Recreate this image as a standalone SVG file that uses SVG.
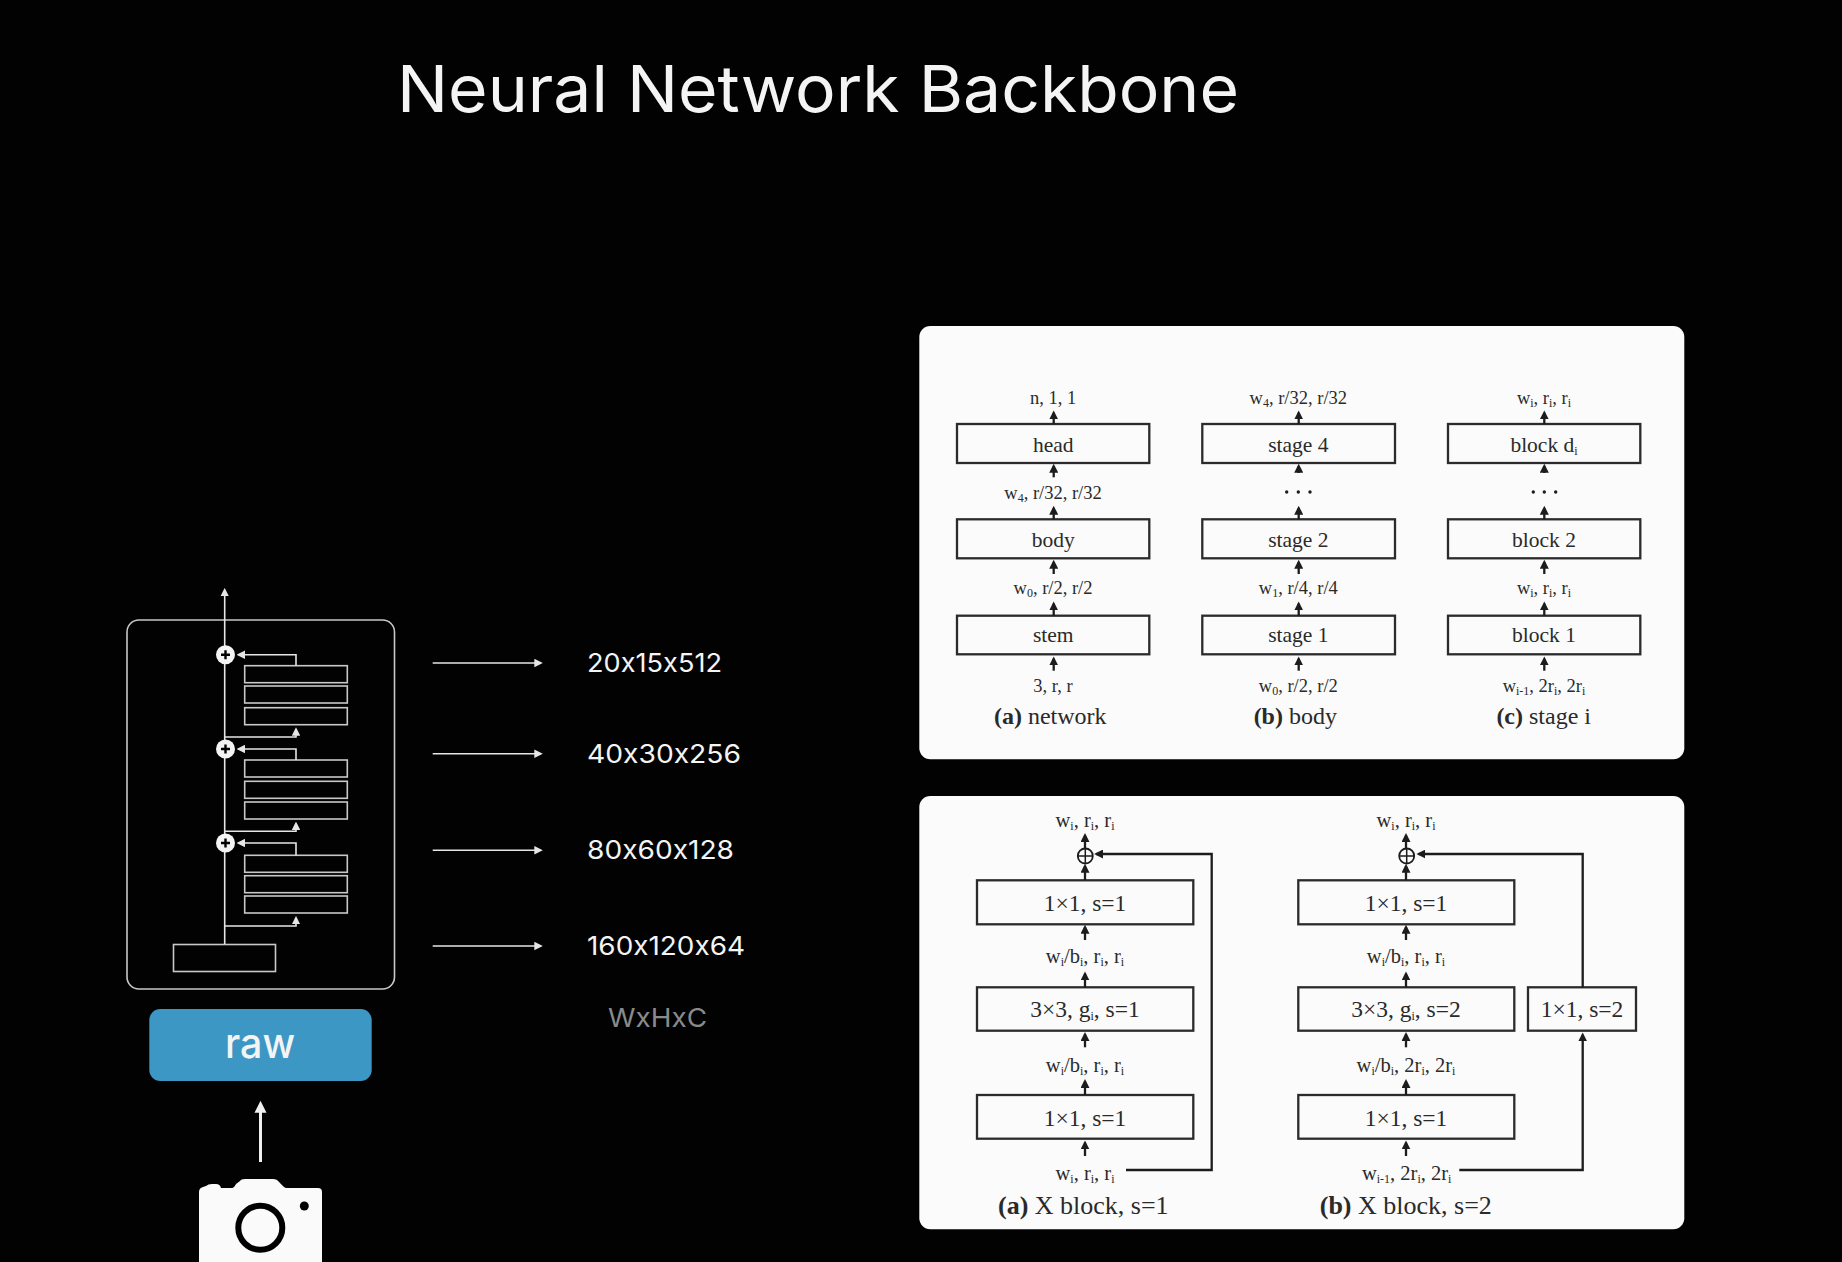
<svg xmlns="http://www.w3.org/2000/svg" width="1842" height="1262" viewBox="0 0 1842 1262">
<defs>
<marker id="wh" markerUnits="userSpaceOnUse" markerWidth="8.5" markerHeight="8.5" refX="6" refY="4" viewBox="0 0 8 8" orient="auto"><path d="M0 0L8 4L0 8Z" fill="#e6e6e6"/></marker>
<marker id="bk" markerUnits="userSpaceOnUse" markerWidth="9" markerHeight="9" refX="6" refY="4" viewBox="0 0 8 8" orient="auto"><path d="M0 0L8 4L0 8Z" fill="#1c1c1c"/></marker>
</defs>
<style>
.sans{font-family:"Inter","Noto Sans",sans-serif;fill:#f4f4f4;font-feature-settings:"calt" 0;font-variant-ligatures:none}
.dim{font-size:26px}
.wl{fill:none;stroke:#dcdcdc;stroke-width:1.6}
.wb{fill:none;stroke:#c8c8c8;stroke-width:1.6}
.wa{fill:none;stroke:#e6e6e6;stroke-width:1.6;marker-end:url(#wh)}
.panel{fill:#fafbfa}
.box{fill:none;stroke:#2b2b2b;stroke-width:2.3}
.ln{fill:none;stroke:#1c1c1c;stroke-width:2.3}
.ar{fill:none;stroke:#1c1c1c;stroke-width:2.3;marker-end:url(#bk)}
text.s{font-family:"Liberation Serif","Times New Roman",serif;fill:#2a2a2a;text-anchor:middle}
.l{font-size:18.5px}.m{font-size:20.5px}.b{font-size:21.5px}.n{font-size:23.5px}.c{font-size:24px}.d{font-size:26px}
.sb{font-size:12px}.bd{font-weight:bold}
</style>
<rect width="1842" height="1262" fill="#020202"/>
<text id="title" class="sans" x="397" y="112" font-size="65" textLength="842" lengthAdjust="spacingAndGlyphs">Neural Network Backbone</text>

<g id="backbone">
<rect class="wb" x="127" y="620" width="267.5" height="369" rx="12"/>
<rect class="wb" x="173.5" y="944.5" width="102" height="27"/>
<rect class="wb" x="244.7" y="665.7" width="102.6" height="17"/>
<rect class="wb" x="244.7" y="686" width="102.6" height="17"/>
<rect class="wb" x="244.7" y="707.7" width="102.6" height="17"/>
<rect class="wb" x="244.7" y="760" width="102.6" height="17"/>
<rect class="wb" x="244.7" y="781.3" width="102.6" height="17"/>
<rect class="wb" x="244.7" y="802" width="102.6" height="17"/>
<rect class="wb" x="244.7" y="855.3" width="102.6" height="17"/>
<rect class="wb" x="244.7" y="875.7" width="102.6" height="17"/>
<rect class="wb" x="244.7" y="896" width="102.6" height="17"/>
</g>
<g id="backbone-connectors">
<path class="wa" d="M224.7 944V590"/>
<path class="wa" d="M296 665.7V654.7H238.7"/>
<path class="wa" d="M296 760V749H238.7"/>
<path class="wa" d="M296 855.3V843H238.7"/>
<path class="wa" d="M224.7 737H296V729.3"/>
<path class="wa" d="M224.7 831.3H296V823.7"/>
<path class="wa" d="M224.7 926H296V918"/>
</g>
<g id="adders">
<circle cx="225.5" cy="654.7" r="9.5" fill="#f4f4f4"/><path d="M221 654.7H230M225.5 650.2V659.2" stroke="#000" stroke-width="2.4"/>
<circle cx="225.5" cy="749" r="9.5" fill="#f4f4f4"/><path d="M221 749H230M225.5 744.5V753.5" stroke="#000" stroke-width="2.4"/>
<circle cx="225.5" cy="843" r="9.5" fill="#f4f4f4"/><path d="M221 843H230M225.5 838.5V847.5" stroke="#000" stroke-width="2.4"/>
</g>
<g id="raw">
<rect x="149.3" y="1009" width="222.4" height="72" rx="11" fill="#3d97c4"/>
<text class="sans" x="225" y="1058" font-size="42" font-weight="500" textLength="70" lengthAdjust="spacingAndGlyphs">raw</text>
</g>
<g id="camera">
<path fill="#fafafa" d="M199 1262V1192Q199 1188 203 1187L206 1186Q208 1184 212 1184H216Q220 1184 221 1188H232Q234 1188 236 1184L240 1181Q241 1179 245 1179H273Q277 1179 279 1182L284 1187Q285 1188 287 1188H318Q322 1188 322 1192V1262Z"/>
<circle cx="260.3" cy="1227.7" r="22" fill="none" stroke="#000" stroke-width="6"/>
<circle cx="304.3" cy="1206" r="4.5" fill="#000"/>
</g>
<g id="camera-arrow">
<path d="M260.5 1162V1110" stroke="#f0f0f0" stroke-width="3"/>
<path d="M260.5 1100.7L266.5 1112.7H254.5Z" fill="#f0f0f0"/>
</g>
<g id="output-arrows">
<path class="wa" d="M432.7 663H540.7"/>
<path class="wa" d="M432.7 753.7H540.7"/>
<path class="wa" d="M432.7 850.3H540.7"/>
<path class="wa" d="M432.7 946H540.7"/>
</g>
<g id="output-labels">
<text class="sans dim" x="587" y="671.7" textLength="135" lengthAdjust="spacingAndGlyphs">20x15x512</text>
<text class="sans dim" x="587" y="762.7" textLength="154" lengthAdjust="spacingAndGlyphs">40x30x256</text>
<text class="sans dim" x="587" y="858.7" textLength="147" lengthAdjust="spacingAndGlyphs">80x60x128</text>
<text class="sans dim" x="587" y="954.7" textLength="158" lengthAdjust="spacingAndGlyphs">160x120x64</text>
<text class="sans dim" x="608" y="1026.7" textLength="99" lengthAdjust="spacingAndGlyphs" style="fill:#8a8a8a">WxHxC</text>
</g>

<g id="panel-top">
<rect class="panel" x="919.3" y="326" width="765" height="433.3" rx="11"/>
</g>
<g id="panel-bottom">
<rect class="panel" x="919.3" y="796" width="765" height="433.3" rx="11"/>
</g>

<g id="network">
<rect class="box" x="957" y="424" width="192.3" height="39"/><text class="s b" x="1053.2" y="451.7">head</text>
<rect class="box" x="957" y="519.3" width="192.3" height="39"/><text class="s b" x="1053.2" y="546.7">body</text>
<rect class="box" x="957" y="615.7" width="192.3" height="38.6"/><text class="s b" x="1053.2" y="642.3">stem</text>
<text class="s l" x="1053" y="404.3">n, 1, 1</text>
<text class="s l" x="1053" y="499.3">w<tspan class="sb" dy="3">4</tspan><tspan dy="-3">, r/32, r/32</tspan></text>
<text class="s l" x="1053" y="594.3">w<tspan class="sb" dy="3">0</tspan><tspan dy="-3">, r/2, r/2</tspan></text>
<text class="s l" x="1053" y="692">3, r, r</text>
<text class="s c" x="1050.3" y="723.8"><tspan class="bd">(a)</tspan> network</text>
</g>
<g id="body">
<rect class="box" x="1202.3" y="424" width="192.7" height="39"/><text class="s b" x="1298.3" y="451.7">stage 4</text>
<rect class="box" x="1202.3" y="519.3" width="192.7" height="39"/><text class="s b" x="1298.3" y="546.7">stage 2</text>
<rect class="box" x="1202.3" y="615.7" width="192.7" height="38.6"/><text class="s b" x="1298.3" y="642.3">stage 1</text>
<text class="s l" x="1298.3" y="404.3">w<tspan class="sb" dy="3">4</tspan><tspan dy="-3">, r/32, r/32</tspan></text>
<circle cx="1286.7" cy="492" r="1.7" fill="#1c1c1c"/><circle cx="1298.3" cy="492" r="1.7" fill="#1c1c1c"/><circle cx="1310" cy="492" r="1.7" fill="#1c1c1c"/>
<text class="s l" x="1298.3" y="594.3">w<tspan class="sb" dy="3">1</tspan><tspan dy="-3">, r/4, r/4</tspan></text>
<text class="s l" x="1298.3" y="692">w<tspan class="sb" dy="3">0</tspan><tspan dy="-3">, r/2, r/2</tspan></text>
<text class="s c" x="1295.3" y="723.8"><tspan class="bd">(b)</tspan> body</text>
</g>
<g id="stage">
<rect class="box" x="1448" y="424" width="192.3" height="39"/><text class="s b" x="1544" y="451.7">block d<tspan class="sb" dy="3">i</tspan></text>
<rect class="box" x="1448" y="519.3" width="192.3" height="39"/><text class="s b" x="1544" y="546.7">block 2</text>
<rect class="box" x="1448" y="615.7" width="192.3" height="38.6"/><text class="s b" x="1544" y="642.3">block 1</text>
<text class="s l" x="1544" y="404.3">w<tspan class="sb" dy="3">i</tspan><tspan dy="-3">, r</tspan><tspan class="sb" dy="3">i</tspan><tspan dy="-3">, r</tspan><tspan class="sb" dy="3">i</tspan></text>
<circle cx="1533.3" cy="492" r="1.7" fill="#1c1c1c"/><circle cx="1544.3" cy="492" r="1.7" fill="#1c1c1c"/><circle cx="1555.7" cy="492" r="1.7" fill="#1c1c1c"/>
<text class="s l" x="1544" y="594.3">w<tspan class="sb" dy="3">i</tspan><tspan dy="-3">, r</tspan><tspan class="sb" dy="3">i</tspan><tspan dy="-3">, r</tspan><tspan class="sb" dy="3">i</tspan></text>
<text class="s l" x="1544" y="692">w<tspan class="sb" dy="3">i-1</tspan><tspan dy="-3">, 2r</tspan><tspan class="sb" dy="3">i</tspan><tspan dy="-3">, 2r</tspan><tspan class="sb" dy="3">i</tspan></text>
<text class="s c" x="1543.7" y="723.8"><tspan class="bd">(c)</tspan> stage i</text>
</g>
<g id="top-connectors">
<path class="ar" d="M1053.7 424V412.7"/><path class="ar" d="M1053.7 477.3V466"/><path class="ar" d="M1053.7 519.3V508"/><path class="ar" d="M1053.7 574V562"/><path class="ar" d="M1053.7 615.7V603.7"/><path class="ar" d="M1053.7 670.7V658.7"/>
<path class="ar" d="M1298.7 424V412.7"/><path class="ar" d="M1298.7 473V466"/><path class="ar" d="M1298.7 519.3V508"/><path class="ar" d="M1298.7 574V562"/><path class="ar" d="M1298.7 615.7V603.7"/><path class="ar" d="M1298.7 670.7V658.7"/>
<path class="ar" d="M1544.3 424V412.7"/><path class="ar" d="M1544.3 473V466"/><path class="ar" d="M1544.3 519.3V508"/><path class="ar" d="M1544.3 574V562"/><path class="ar" d="M1544.3 615.7V603.7"/><path class="ar" d="M1544.3 670.7V658.7"/>
</g>

<g id="x-block-1">
<rect class="box" x="977" y="880.3" width="216.3" height="44"/><text class="s n" x="1085" y="911">1×1, s=1</text>
<rect class="box" x="977" y="987.3" width="216.3" height="43.4"/><text class="s n" x="1085" y="1017.3">3×3, g<tspan class="sb" dy="3">i</tspan><tspan dy="-3">, s=1</tspan></text>
<rect class="box" x="977" y="1095" width="216.3" height="43.7"/><text class="s n" x="1085" y="1125.7">1×1, s=1</text>
<circle cx="1085.3" cy="856" r="7.5" fill="none" stroke="#1c1c1c" stroke-width="1.8"/><path d="M1077.8 856H1092.8M1085.3 848.5V863.5" stroke="#1c1c1c" stroke-width="1.5"/>
<text class="s m" x="1085" y="827.3">w<tspan class="sb" dy="3">i</tspan><tspan dy="-3">, r</tspan><tspan class="sb" dy="3">i</tspan><tspan dy="-3">, r</tspan><tspan class="sb" dy="3">i</tspan></text>
<text class="s m" x="1085" y="963.3">w<tspan class="sb" dy="3">i</tspan><tspan dy="-3">/b</tspan><tspan class="sb" dy="3">i</tspan><tspan dy="-3">, r</tspan><tspan class="sb" dy="3">i</tspan><tspan dy="-3">, r</tspan><tspan class="sb" dy="3">i</tspan></text>
<text class="s m" x="1085" y="1071.7">w<tspan class="sb" dy="3">i</tspan><tspan dy="-3">/b</tspan><tspan class="sb" dy="3">i</tspan><tspan dy="-3">, r</tspan><tspan class="sb" dy="3">i</tspan><tspan dy="-3">, r</tspan><tspan class="sb" dy="3">i</tspan></text>
<text class="s m" x="1085" y="1180">w<tspan class="sb" dy="3">i</tspan><tspan dy="-3">, r</tspan><tspan class="sb" dy="3">i</tspan><tspan dy="-3">, r</tspan><tspan class="sb" dy="3">i</tspan></text>
<text class="s d" x="1083.3" y="1214"><tspan class="bd">(a)</tspan> X block, s=1</text>
</g>
<g id="x-block-2">
<rect class="box" x="1298.3" y="880.3" width="216" height="44"/><text class="s n" x="1406" y="911">1×1, s=1</text>
<rect class="box" x="1298.3" y="987.3" width="216" height="43.4"/><text class="s n" x="1406" y="1017.3">3×3, g<tspan class="sb" dy="3">i</tspan><tspan dy="-3">, s=2</tspan></text>
<rect class="box" x="1298.3" y="1095" width="216" height="43.7"/><text class="s n" x="1406" y="1125.7">1×1, s=1</text>
<rect class="box" x="1528" y="987.3" width="108" height="43.4"/><text class="s n" x="1582" y="1017.3">1×1, s=2</text>
<circle cx="1406.7" cy="856" r="7.5" fill="none" stroke="#1c1c1c" stroke-width="1.8"/><path d="M1399.2 856H1414.2M1406.7 848.5V863.5" stroke="#1c1c1c" stroke-width="1.5"/>
<text class="s m" x="1406" y="827.3">w<tspan class="sb" dy="3">i</tspan><tspan dy="-3">, r</tspan><tspan class="sb" dy="3">i</tspan><tspan dy="-3">, r</tspan><tspan class="sb" dy="3">i</tspan></text>
<text class="s m" x="1406" y="963.3">w<tspan class="sb" dy="3">i</tspan><tspan dy="-3">/b</tspan><tspan class="sb" dy="3">i</tspan><tspan dy="-3">, r</tspan><tspan class="sb" dy="3">i</tspan><tspan dy="-3">, r</tspan><tspan class="sb" dy="3">i</tspan></text>
<text class="s m" x="1406" y="1071.7">w<tspan class="sb" dy="3">i</tspan><tspan dy="-3">/b</tspan><tspan class="sb" dy="3">i</tspan><tspan dy="-3">, 2r</tspan><tspan class="sb" dy="3">i</tspan><tspan dy="-3">, 2r</tspan><tspan class="sb" dy="3">i</tspan></text>
<text class="s m" x="1406.7" y="1180">w<tspan class="sb" dy="3">i-1</tspan><tspan dy="-3">, 2r</tspan><tspan class="sb" dy="3">i</tspan><tspan dy="-3">, 2r</tspan><tspan class="sb" dy="3">i</tspan></text>
<text class="s d" x="1405.8" y="1214"><tspan class="bd">(b)</tspan> X block, s=2</text>
</g>
<g id="bottom-connectors">
<path class="ar" d="M1085 848.5V835.3"/><path class="ar" d="M1085 880.3V866"/><path class="ar" d="M1085 940V927"/><path class="ar" d="M1085 987.3V973.7"/><path class="ar" d="M1085 1047.3V1034.3"/><path class="ar" d="M1085 1095V1081.3"/><path class="ar" d="M1085 1156V1142.7"/>
<path class="ar" d="M1126 1170H1211.7V854H1096.3"/>
<path class="ar" d="M1406 848.5V835.3"/><path class="ar" d="M1406 880.3V866"/><path class="ar" d="M1406 940V927"/><path class="ar" d="M1406 987.3V973.7"/><path class="ar" d="M1406 1047.3V1034.3"/><path class="ar" d="M1406 1095V1081.3"/><path class="ar" d="M1406 1156V1142.7"/>
<path class="ar" d="M1459.3 1170H1582.7V1034.7"/>
<path class="ar" d="M1582.7 987.3V854H1418.7"/>
</g>
</svg>
